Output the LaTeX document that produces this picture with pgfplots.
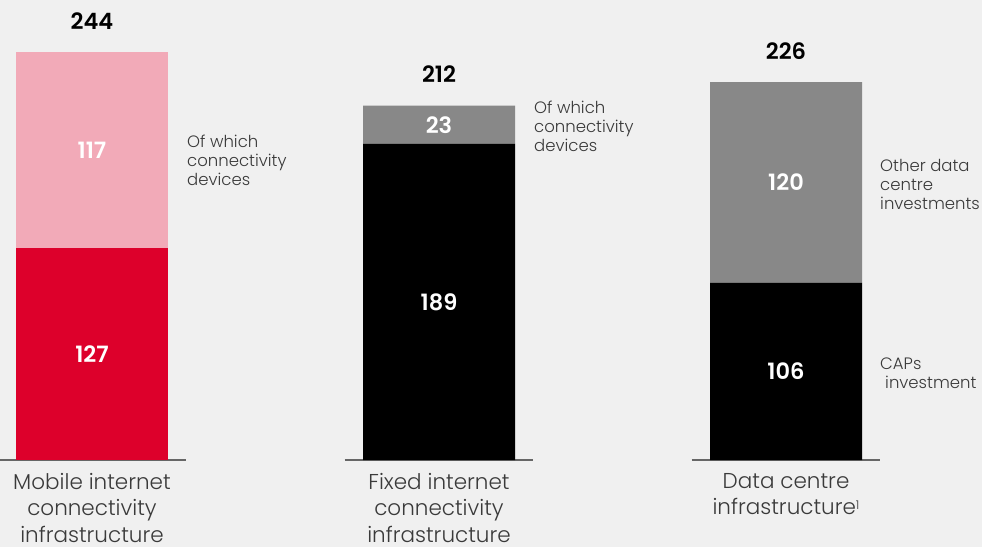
\documentclass[border=0pt]{standalone}
\usepackage{fontspec}
\setmainfont{Poppins Light}[BoldFont={Poppins SemiBold}]
\usepackage{pgfplots}
\pgfplotsset{compat=1.18}
\definecolor{bgcol}{HTML}{F0F0F0}
\definecolor{mobred}{HTML}{DD002B}
\definecolor{mobpink}{HTML}{F2AAB8}
\definecolor{midgray}{HTML}{888888}
\definecolor{txt}{HTML}{3A3A3A}
\definecolor{basecol}{HTML}{666666}

% same frame for both layers: 1pt ~ 1px of the reference
\pgfplotsset{chartbox/.style={
  at={(0,0)}, anchor=south west, scale only axis,
  width=982pt, height=547pt,
  xmin=-0.2651, xmax=2.5648, ymin=-52, ymax=275.1,
  clip=false}}

\begin{document}
\begin{tikzpicture}
\fill[bgcol] (0,0) rectangle (982pt,547pt);
\begin{axis}[chartbox,
  ybar stacked, bar width=152pt,
  axis x line=middle, axis y line=none,
  axis line style={draw=none},
  xtick={0,1,2}, major tick length=0pt, ytick=\empty,
  xticklabels={{Mobile internet\\connectivity\\infrastructure},
               {Fixed internet\\connectivity\\infrastructure},
               {Data centre\\infrastructure\raisebox{5.5pt}{\fontsize{12}{12}\selectfont 1}}},
  xticklabel style={anchor=north, align=center, text=txt,
    font=\fontsize{21.5}{26.5}\selectfont, yshift=-9.5pt}]
\addplot[fill=mobred, draw=none] coordinates {(0,127) (1,0) (2,0)};
\addplot[fill=black, draw=none] coordinates {(0,0) (1,189) (2,106)};
\addplot[fill=mobpink, draw=none] coordinates {(0,117) (1,0) (2,0)};
\addplot[fill=midgray, draw=none] coordinates {(0,0) (1,23) (2,120)};

\draw[basecol, line width=1.3pt] (axis cs:-0.272,0) -- (axis cs:0.272,0);
\draw[basecol, line width=1.3pt] (axis cs:0.728,0) -- (axis cs:1.272,0);
\draw[basecol, line width=1.3pt] (axis cs:1.728,0) -- (axis cs:2.272,0);

\tikzset{note/.style={anchor=west, align=left, inner sep=0pt, text=txt,
  font=\fontsize{16.5}{19}\selectfont}}
\node[note] at (axis cs:0.2738,179.4) {Of which\\connectivity\\devices};
\node[note] at (axis cs:1.2738,199.8) {Of which\\connectivity\\devices};
\node[note] at (axis cs:2.2709,164.8) {Other data\\centre\\investments};
\node[note] at (axis cs:2.2709,52.0) {CAPs\\\hspace*{5pt}investment};
\end{axis}

\begin{axis}[chartbox, hide axis]
% segment values, at the middle of each segment
\addplot[only marks, mark=none, nodes near coords, point meta=explicit symbolic,
  nodes near coords style={anchor=center, text=white,
    font=\fontsize{22.5}{22.5}\selectfont\bfseries}]
  coordinates {(0,63.5)[127] (0,185.5)[117] (1,94.5)[189] (1,200.5)[23]
               (2,53)[106] (2,166)[120]};
% totals
\addplot[only marks, mark=none, nodes near coords, point meta=explicit symbolic,
  nodes near coords style={anchor=base, yshift=23pt, text=black,
    font=\fontsize{22.5}{22.5}\selectfont\bfseries}]
  coordinates {(0,244)[244] (1,212)[212] (2,226)[226]};
\end{axis}
\pgfresetboundingbox
\useasboundingbox (0,0) rectangle (982pt,547pt);
\end{tikzpicture}
\end{document}
